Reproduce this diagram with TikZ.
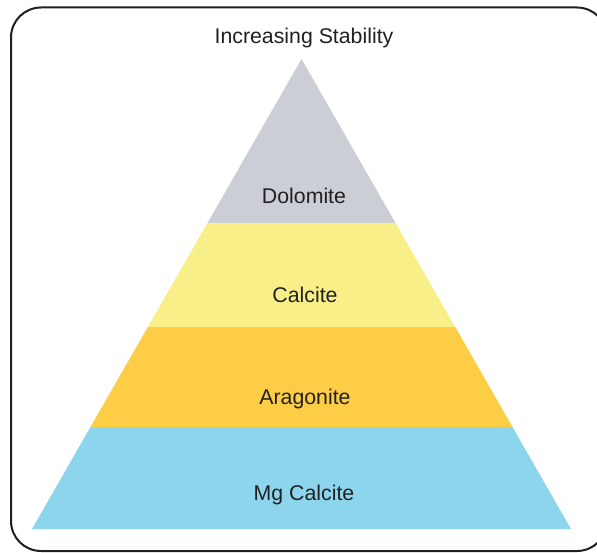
\documentclass[tikz,border=0pt]{standalone}
\usepackage{fontspec}
\setmainfont{Liberation Sans}
\begin{document}
\begin{tikzpicture}[x=1pt,y=-1pt,
  lbl/.style={anchor=base,font=\fontsize{21.3}{24}\selectfont,text=black!87,inner sep=0pt},
  band/.style={draw=none}]
\definecolor{dolgray}{HTML}{CBCED5}
\definecolor{calyel}{HTML}{F9EF88}
\definecolor{araor}{HTML}{FDCD45}
\definecolor{mgblue}{HTML}{8DD5ED}
\useasboundingbox (0,0) rectangle (597,553);
\clip (0,0) rectangle (597,553);
\draw[line width=2pt,rounded corners=30pt,draw=black!88] (11,7.5) rectangle (607,551);
\coordinate (apex) at (301.5,59);
\coordinate (bl) at (32,529);
\coordinate (br) at (571,529);
\coordinate (al) at (90.5,427);
\coordinate (ar) at (512.5,427);
\coordinate (cl) at (147.8,327);
\coordinate (cr) at (455.2,327);
\coordinate (dl) at (207.5,223);
\coordinate (dr) at (395.5,223);
\fill[band,mgblue] (bl) -- (br) -- (ar) -- (al) -- cycle;
\fill[band,araor] (al) -- (ar) -- (cr) -- (cl) -- cycle;
\fill[band,calyel] (cl) -- (cr) -- (dr) -- (dl) -- cycle;
\fill[band,dolgray] (dl) -- (dr) -- (apex) -- cycle;
\node[lbl] (title) at (304,44) {Increasing Stability};
\node[lbl] (dol) at (304,204) {Dolomite};
\node[lbl] (cal) at (305,302) {Calcite};
\node[lbl] (ara) at (305,404) {Aragonite};
\node[lbl] (mg) at (304,500) {Mg Calcite};
\end{tikzpicture}
\end{document}
